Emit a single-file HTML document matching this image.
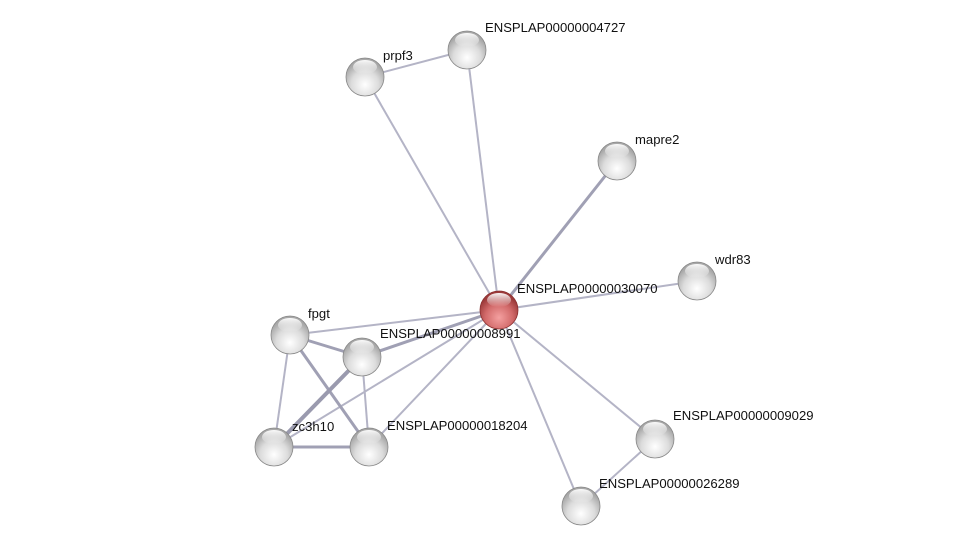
<!DOCTYPE html>
<html><head><meta charset="utf-8"><style>
html,body{margin:0;padding:0;background:#fff;width:975px;height:551px;overflow:hidden}
svg text{font-family:"Liberation Sans",sans-serif;font-size:13.1px;fill:#111}
</style></head><body>
<svg width="975" height="551" viewBox="0 0 975 551">
<defs>
<radialGradient id="g" cx="50%" cy="70%" r="60%">
<stop offset="0" stop-color="#ffffff"/><stop offset="0.6" stop-color="#dcdcdc"/><stop offset="1" stop-color="#a8a8a8"/>
</radialGradient>
<radialGradient id="r" cx="50%" cy="70%" r="60%">
<stop offset="0" stop-color="#f4a0a0"/><stop offset="0.6" stop-color="#d26a6a"/><stop offset="1" stop-color="#9c3a3a"/>
</radialGradient>
<linearGradient id="h" x1="0" y1="0" x2="0" y2="1">
<stop offset="0" stop-color="#fff" stop-opacity="0.95"/><stop offset="1" stop-color="#fff" stop-opacity="0"/>
</linearGradient>
<g id="shine"><ellipse cx="0" cy="-10" rx="12" ry="7" fill="url(#h)"/></g>
</defs>
<g stroke="#b4b4c6" stroke-width="2" fill="none">
<line x1="365" y1="77" x2="467" y2="50"/>
<line x1="365" y1="77" x2="499" y2="310"/>
<line x1="467" y1="50" x2="499" y2="310"/>
<line x1="617" y1="161" x2="499" y2="310" stroke-width="3" stroke="#a0a0b4"/>
<line x1="697" y1="281" x2="499" y2="310"/>
<line x1="290" y1="335" x2="499" y2="310"/>
<line x1="362" y1="357" x2="499" y2="310" stroke-width="3" stroke="#a0a0b4"/>
<line x1="274" y1="447" x2="499" y2="310"/>
<line x1="369" y1="447" x2="499" y2="310"/>
<line x1="655" y1="439" x2="499" y2="310"/>
<line x1="581" y1="506" x2="499" y2="310"/>
<line x1="655" y1="439" x2="581" y2="506"/>
<line x1="290" y1="335" x2="362" y2="357" stroke-width="3" stroke="#a0a0b4"/>
<line x1="290" y1="335" x2="274" y2="447"/>
<line x1="290" y1="335" x2="369" y2="447" stroke-width="3" stroke="#a0a0b4"/>
<line x1="362" y1="357" x2="274" y2="447" stroke-width="4" stroke="#9a9aae"/>
<line x1="362" y1="357" x2="369" y2="447"/>
<line x1="274" y1="447" x2="369" y2="447" stroke-width="3" stroke="#a0a0b4"/>
</g>
<g stroke="#888" stroke-width="0.8">
<circle cx="365" cy="77" r="19" fill="url(#g)"/>
<circle cx="467" cy="50" r="19" fill="url(#g)"/>
<circle cx="617" cy="161" r="19" fill="url(#g)"/>
<circle cx="697" cy="281" r="19" fill="url(#g)"/>
<circle cx="290" cy="335" r="19" fill="url(#g)"/>
<circle cx="362" cy="357" r="19" fill="url(#g)"/>
<circle cx="274" cy="447" r="19" fill="url(#g)"/>
<circle cx="369" cy="447" r="19" fill="url(#g)"/>
<circle cx="655" cy="439" r="19" fill="url(#g)"/>
<circle cx="581" cy="506" r="19" fill="url(#g)"/>
<circle cx="499" cy="310" r="19" fill="url(#r)" stroke="#8a3030"/>
</g>
<g>
<use href="#shine" x="365" y="77"/><use href="#shine" x="467" y="50"/><use href="#shine" x="617" y="161"/>
<use href="#shine" x="697" y="281"/><use href="#shine" x="290" y="335"/><use href="#shine" x="362" y="357"/>
<use href="#shine" x="274" y="447"/><use href="#shine" x="369" y="447"/><use href="#shine" x="655" y="439"/>
<use href="#shine" x="581" y="506"/><use href="#shine" x="499" y="310"/>
</g>
<text x="383" y="60">prpf3</text>
<text x="485" y="32">ENSPLAP00000004727</text>
<text x="635" y="144">mapre2</text>
<text x="715" y="264">wdr83</text>
<text x="517" y="293">ENSPLAP00000030070</text>
<text x="308" y="318">fpgt</text>
<text x="380" y="338">ENSPLAP00000008991</text>
<text x="292" y="431">zc3h10</text>
<text x="387" y="430">ENSPLAP00000018204</text>
<text x="673" y="420">ENSPLAP00000009029</text>
<text x="599" y="488">ENSPLAP00000026289</text>
</svg>
</body></html>
